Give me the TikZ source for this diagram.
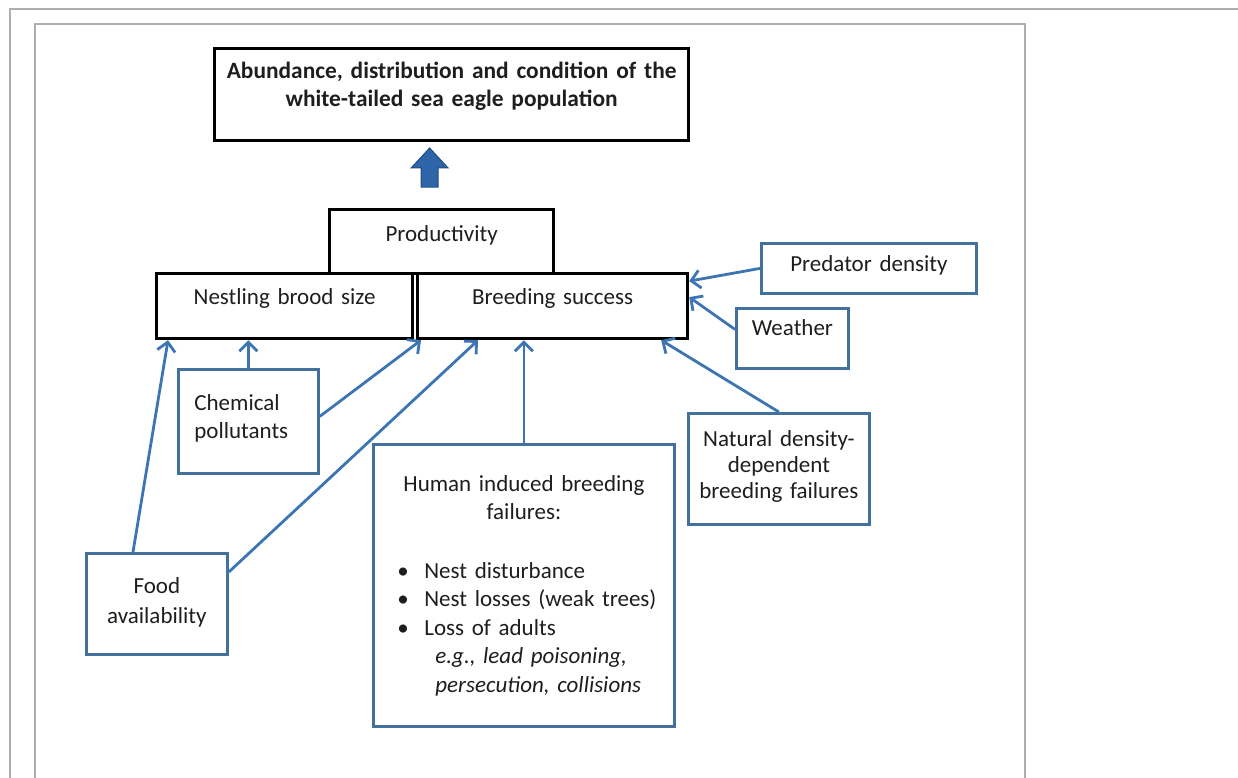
\documentclass[tikz,border=0pt]{standalone}
\usepackage{fontspec}
\setmainfont{Carlito}
\usetikzlibrary{arrows.meta,calc}
\definecolor{boxblue}{HTML}{41719C}
\definecolor{linkblue}{HTML}{3D74B3}
\definecolor{txt}{HTML}{1E1E1E}
\definecolor{framegray}{HTML}{B0ADB0}
\definecolor{fatfill}{HTML}{2E64A8}
\definecolor{fatline}{HTML}{1F4E85}
\tikzset{
  outcome/.style = {draw=black, line width=3.2pt, inner sep=0pt, anchor=north west,
                    align=center, text=txt, font=\fontsize{23}{27}\selectfont},
  factor/.style  = {draw=boxblue, line width=2.8pt, inner sep=0pt, anchor=north west,
                    align=center, text=txt, font=\fontsize{23}{27}\selectfont},
  link/.style    = {draw=linkblue, line width=2.8pt, -{Straight Barb[length=9pt,width=18pt]}},
  frame/.style   = {draw=framegray, line width=2pt},
}

\begin{document}
\begin{tikzpicture}[x=1pt, y=-1pt]
\useasboundingbox (0,0) rectangle (1238,778);

% page frames
\draw[frame] (10,778) -- (10,9) -- (1238,9);
\draw[frame] (35,778) -- (35,24) -- (1025,24) -- (1025,778);

% outcome boxes
\node[outcome, text width=474pt, text height=30pt, text depth=62pt,
      font=\fontsize{23.4}{28}\selectfont\bfseries] (title) at (213,47)
  {Abundance, distribution and condition of the\\white-tailed sea eagle population};
\node[outcome, text width=224pt, text height=32pt, text depth=32pt] (prod) at (328,208) {Productivity};
\node[outcome, text width=256pt, text height=31pt, text depth=34pt] (nest) at (155,272) {Nestling brood size};
\node[outcome, text width=270pt, text height=31pt, text depth=34pt] (breed) at (416,272) {Breeding success};

% factors
\node[factor, text width=215pt, text height=28pt, text depth=22pt] (pred) at (760,242) {Predator density};
\node[factor, text width=112pt, text height=27pt, text depth=33pt] (weather) at (735,307) {Weather};
\node[factor, text width=181pt, text height=33pt, text depth=78pt,
      font=\fontsize{23}{26}\selectfont] (natural) at (687,412)
  {Natural density-\\dependent\\breeding failures};
\node[factor, text width=108pt, inner xsep=16pt, text height=41pt, text depth=63pt, align=left,
      font=\fontsize{23}{28}\selectfont] (chem) at (177,368) {Chemical\\pollutants};
\node[factor, text width=141pt, text height=40pt, text depth=61pt,
      font=\fontsize{23}{30}\selectfont] (food) at (85,552) {Food\\availability};
\node[factor, text width=301pt, text height=47pt, text depth=235pt, align=left,
      font=\fontsize{23}{28.5}\selectfont] (human) at (372,443)
  {{\centering Human induced breeding\\failures:\par}
   \vspace{30pt}
   \hspace*{24pt}\makebox[27pt][l]{\textbullet}Nest disturbance\\
   \hspace*{24pt}\makebox[27pt][l]{\textbullet}Nest losses (weak trees)\\
   \hspace*{24pt}\makebox[27pt][l]{\textbullet}Loss of adults\\
   \hspace*{62pt}\textit{e.g., lead poisoning,}\\
   \hspace*{62pt}\textit{persecution, collisions}};

% big arrow up to the population
\coordinate (fatbase) at ([xshift=-12pt,yshift=21pt]prod.north);
\filldraw[fill=fatfill, draw=fatline, line width=1pt]
  ([xshift=-8.5pt]fatbase) -- ++(0,-19) -- ++(-10,0) -- ++(18.5,-20)
  -- ++(18.5,20) -- ++(-10,0) -- ++(0,19) -- cycle;

% influences
\draw[link] ([xshift=48pt]food.north west) -- ([xshift=13pt]nest.south west);
\draw[link] ([yshift=-20pt]food.north east) -- ([xshift=62pt]breed.south west);
\draw[link] (chem.north) -- (chem.north |- nest.south);
\draw[link] ([yshift=5pt]chem.east) -- ([xshift=5pt]breed.south west);
\draw[link] (human.north) -- (human.north |- breed.south);
\draw[link] (natural.north) -- ([xshift=-28pt]breed.south east);
\draw[link] ([yshift=9pt]weather.west) -- ([yshift=9pt]breed.east);
\draw[link] (pred.west) -- ([yshift=25pt]breed.east);
\end{tikzpicture}
\end{document}
